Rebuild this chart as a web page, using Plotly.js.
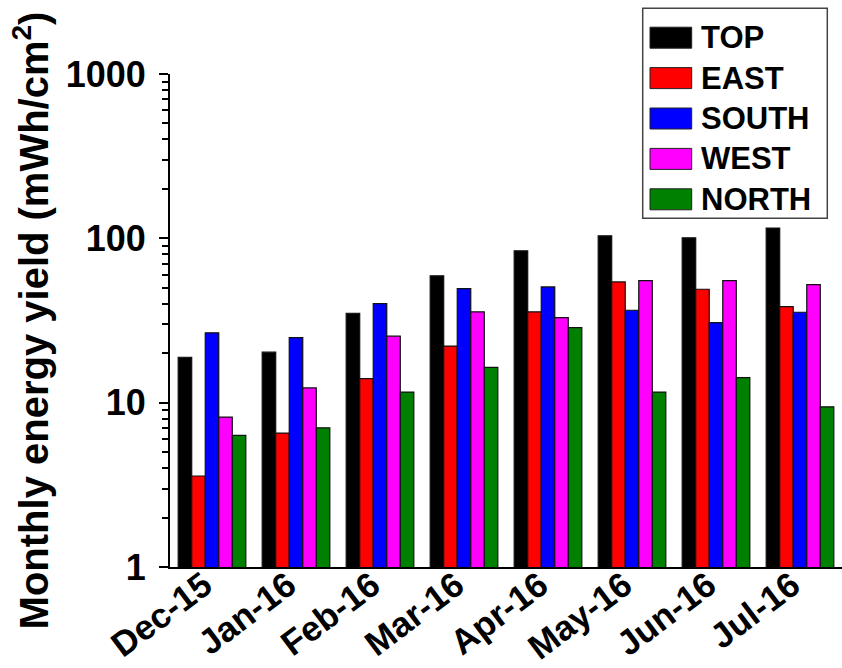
<!DOCTYPE html>
<html>
<head>
<meta charset="utf-8">
<script src="https://cdn.plot.ly/plotly-3.0.1.min.js"></script>
<style>
  html, body { margin: 0; padding: 0; background: #ffffff; }
  #chart { width: 842px; height: 668px; }
</style>
</head>
<body>
<div id="chart"></div>
<script>
// Monthly energy yield per module orientation (mWh/cm^2)
const months = ['Dec-15', 'Jan-16', 'Feb-16', 'Mar-16', 'Apr-16', 'May-16', 'Jun-16', 'Jul-16'];
const seriesNames = ['TOP', 'EAST', 'SOUTH', 'WEST', 'NORTH'];
const seriesColors = ['#000000', '#ff0000', '#0000ff', '#ff00ff', '#008000'];
const topYield   = [18.9, 20.3, 35.0, 59.1, 83.9, 103.6, 100.7, 115.4];
const eastYield  = [3.58, 6.53, 14.0, 22.1, 35.7, 54.3, 49.0, 38.4];
const southYield = [26.6, 24.9, 40.1, 49.4, 50.6, 36.5, 30.7, 35.5];
const westYield  = [8.17, 12.3, 25.4, 35.7, 32.9, 55.3, 55.3, 52.3];
const northYield = [6.32, 7.03, 11.6, 16.4, 28.6, 11.6, 14.2, 9.44];
const yTickVals = [1, 10, 100, 1000];
const yTickText = ['1', '10', '100', '1000'];

const seriesValues = [topYield, eastYield, southYield, westYield, northYield];

// plot-area geometry in pixels
const L = 170, W = 672, T = 74, H = 493, B = T + H;
const px = x => (x - L) / W;
const py = y => (B - y) / H;

const FONT = '"Liberation Sans", Arial, sans-serif';

const traces = seriesNames.map((name, i) => ({
  type: 'bar',
  name: name,
  x: months,
  y: seriesValues[i],
  marker: { color: seriesColors[i], line: { color: '#111111', width: 1.2 } },
  showlegend: false,
  hoverinfo: 'skip'
}));

// minor ticks at 2..9 of each decade
const minorVals = [];
[1, 10, 100].forEach(d => { for (let k = 2; k <= 9; k++) minorVals.push(k * d); });

// legend drawn as a framed box with wide swatches
const shapes = [{
  type: 'rect', xref: 'paper', yref: 'paper',
  x0: px(642.7), x1: px(827.3), y0: py(218.3), y1: py(8.3),
  line: { color: '#444444', width: 1.5 }, fillcolor: '#ffffff', layer: 'above'
}];
const annotations = [];
seriesNames.forEach((name, i) => {
  const cy = 37.7 + 40.4 * i;
  shapes.push({
    type: 'rect', xref: 'paper', yref: 'paper',
    x0: px(650), x1: px(691.7), y0: py(cy + 10.5), y1: py(cy - 10.5),
    line: { color: '#222222', width: 1 }, fillcolor: seriesColors[i], layer: 'above'
  });
  annotations.push({
    xref: 'paper', yref: 'paper', x: px(699), y: py(cy),
    xanchor: 'left', yanchor: 'middle', showarrow: false,
    text: name, font: { family: FONT, size: 31, weight: 'bold', color: '#000000' }
  });
});

const layout = {
  width: 842, height: 668,
  margin: { l: L, r: 842 - L - W, t: T, b: 668 - B, pad: 0 },
  paper_bgcolor: '#ffffff', plot_bgcolor: '#ffffff',
  barmode: 'group', bargap: 0.195, bargroupgap: 0,
  font: { family: FONT, color: '#000000' },
  xaxis: {
    type: 'category', range: [-0.5, 7.5],
    showline: true, linecolor: '#000000', linewidth: 2,
    ticks: '', showgrid: false, zeroline: false,
    tickangle: -37,
    ticklabelstandoff: -18,
    ticklabelshift: -8,
    tickfont: { family: FONT, size: 35, weight: 'bold', color: '#000000' },
    automargin: false
  },
  yaxis: {
    type: 'log', range: [0, 3],
    showline: true, linecolor: '#000000', linewidth: 2,
    ticks: 'outside', ticklen: 9, tickwidth: 2, tickcolor: '#000000',
    tickmode: 'array', tickvals: yTickVals, ticktext: yTickText,
    ticklabelstandoff: 6,
    minor: { ticks: 'outside', ticklen: 6, tickwidth: 2, tickcolor: '#000000',
             tickmode: 'array', tickvals: minorVals, showgrid: false },
    showgrid: false, zeroline: false,
    tickfont: { family: FONT, size: 36, weight: 'bold', color: '#000000' },
    title: {
      text: 'Monthly energy yield (mWh/cm<sup>2</sup>)',
      font: { family: FONT, size: 40, weight: 'bold', color: '#000000' },
      standoff: 5
    },
    automargin: false
  },
  shapes: shapes,
  annotations: annotations
};

Plotly.newPlot('chart', traces, layout, { staticPlot: true, displayModeBar: false });
</script>
</body>
</html>
